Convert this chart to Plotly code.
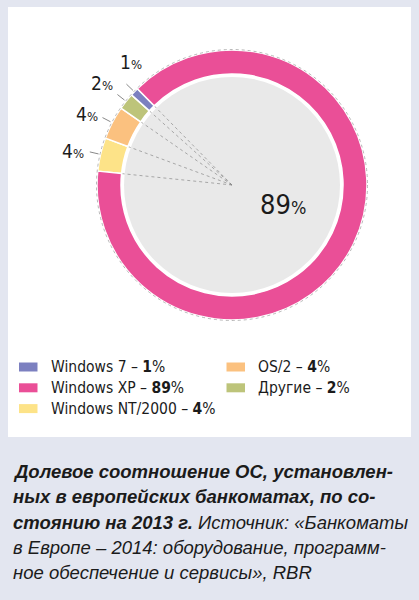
import math
import plotly.graph_objects as go

# slices in clockwise order, starting from the left side of the ring
labels = ["Windows NT/2000", "OS/2", "Другие", "Windows 7", "Windows XP"]
values = [4, 4, 2, 1, 89]
colors = ["#fde388", "#fbc17f", "#bdc47a", "#7c80c0", "#ea4f97"]

legend_order = ["Windows 7", "Windows XP", "Windows NT/2000", "OS/2", "Другие"]

caption_lines = [
    "<b><i>Долевое соотношение ОС, установлен-</i></b>",
    "<b><i>ных в европейских банкоматах, по со-</i></b>",
    "<b><i>стоянию на 2013 г.</i></b><i> Источник: «Банкоматы</i>",
    "<i>в Европе – 2014: оборудование, программ-</i>",
    "<i>ное обеспечение и сервисы», RBR</i>",
]

W, H = 419, 600
CX, CY = 232, 185          # pie centre in pixels
R_OUT, R_IN, R_CORE = 135, 111, 108
START = -84.1              # where the first slice starts (deg, clockwise from 12 o'clock)
BG = "#e3e6f0"
TXT = "#1b1b1b"
FONT = "Liberation Sans Narrow, DejaVu Sans Condensed, Arial Narrow, sans-serif"

total = sum(values)


def pt(angle, r):
    a = math.radians(angle)
    return CX + r * math.sin(a), CY - r * math.cos(a)


fig = go.Figure()

# ring
fig.add_trace(go.Pie(
    labels=labels, values=values, sort=False, direction="clockwise",
    rotation=START, hole=R_IN / R_OUT, textinfo="none", hoverinfo="label+percent",
    marker=dict(colors=colors, line=dict(color="white", width=1.5)),
    domain=dict(x=[(CX - R_OUT) / W, (CX + R_OUT) / W],
                y=[(H - CY - R_OUT) / H, (H - CY + R_OUT) / H]),
    showlegend=False,
))

# thin lines from the centre to the boundaries of the small slices
cum = 0
lx, ly = [], []
for v in values[:-1] + [0]:
    ang = START + cum / total * 360
    x1, y1 = pt(ang, R_IN)
    lx += [CX, x1, None]
    ly += [CY, y1, None]
    cum += v
fig.add_trace(go.Scatter(x=lx, y=ly, mode="lines", hoverinfo="skip", showlegend=False,
                         line=dict(color="#8a8a8a", width=0.7, dash="dot")))

# outside percent labels for small slices + big inside label
label_shift = {"Windows NT/2000": (-4, 1, "right", "middle"),
               "OS/2": (-3, 4, "right", "middle"),
               "Другие": (-2, -1, "right", "bottom"),
               "Windows 7": (5, 9, "center", "bottom")}
cum = 0
for name, v in zip(labels, values):
    mid = START + (cum + v / 2) / total * 360
    cum += v
    if name not in label_shift:
        continue
    x0, y0 = pt(mid, R_OUT + 2)
    x1, y1 = pt(mid, R_OUT + 11)
    fig.add_trace(go.Scatter(x=[x0, x1], y=[y0, y1], mode="lines", hoverinfo="skip",
                             showlegend=False, line=dict(color="#555555", width=0.7)))
    dx, dy, xa, ya = label_shift[name]
    fig.add_annotation(x=x1, y=y1, xref="x", yref="y", showarrow=False,
                       text=f"{v}<span style='font-size:13px'>%</span>",
                       font=dict(family=FONT, size=19, color=TXT),
                       xanchor=xa, yanchor=ya, xshift=dx, yshift=dy)

xp = values[labels.index("Windows XP")]
fig.add_annotation(x=283, y=204, xref="x", yref="y", showarrow=False,
                   text=f"{xp}<span style='font-size:18px'>%</span>",
                   font=dict(family=FONT, size=27, color=TXT))

# legend drawn by hand: two columns
for i, name in enumerate(legend_order):
    col, row = divmod(i, 3)
    x0 = 19 + col * 207.5
    yc = 367 + row * 20.8
    c = colors[labels.index(name)]
    v = values[labels.index(name)]
    fig.add_shape(type="rect", x0=x0, x1=x0 + 18.5, y0=yc - 4.5, y1=yc + 4.5,
                  xref="x", yref="y", line=dict(width=0), fillcolor=c)
    fig.add_annotation(x=x0 + 29.5, y=yc, xref="x", yref="y", showarrow=False,
                       xanchor="left", yanchor="middle",
                       text=f"{name} – <b>{v}</b>%",
                       font=dict(family=FONT, size=15.5, color=TXT))

# caption
for i, line in enumerate(caption_lines):
    fig.add_annotation(x=11, y=471.5 + i * 25.3, xref="x", yref="y", showarrow=False,
                       xanchor="left", yanchor="middle", text=line,
                       font=dict(family="Liberation Sans, Arial, sans-serif", size=18.5, color=TXT))

# panel + inner disc + outer dotted edge
fig.add_shape(type="rect", x0=8, x1=411, y0=7, y1=437, xref="x", yref="y",
              layer="below", line=dict(width=0), fillcolor="white")
fig.add_shape(type="circle", x0=CX - R_CORE, x1=CX + R_CORE, y0=CY - R_CORE, y1=CY + R_CORE,
              xref="x", yref="y", layer="below", line=dict(width=0), fillcolor="#e9e9e9")
fig.add_shape(type="circle", x0=CX - R_OUT - 0.5, x1=CX + R_OUT + 0.5,
              y0=CY - R_OUT - 0.5, y1=CY + R_OUT + 0.5, xref="x", yref="y", layer="above",
              line=dict(color="#9a9a9a", width=0.7, dash="dot"))

fig.update_xaxes(range=[0, W], visible=False, fixedrange=True)
fig.update_yaxes(range=[H, 0], visible=False, fixedrange=True)
fig.update_layout(width=W, height=H, margin=dict(l=0, r=0, t=0, b=0),
                  paper_bgcolor=BG, plot_bgcolor="rgba(0,0,0,0)")

# page body has a default 8px margin; drop it so the figure sits at the window corner
fig.write_html("out.html", config={"displayModeBar": False},
               post_script="document.body.style.margin='0';"
                           f"document.body.style.background='{BG}';")
